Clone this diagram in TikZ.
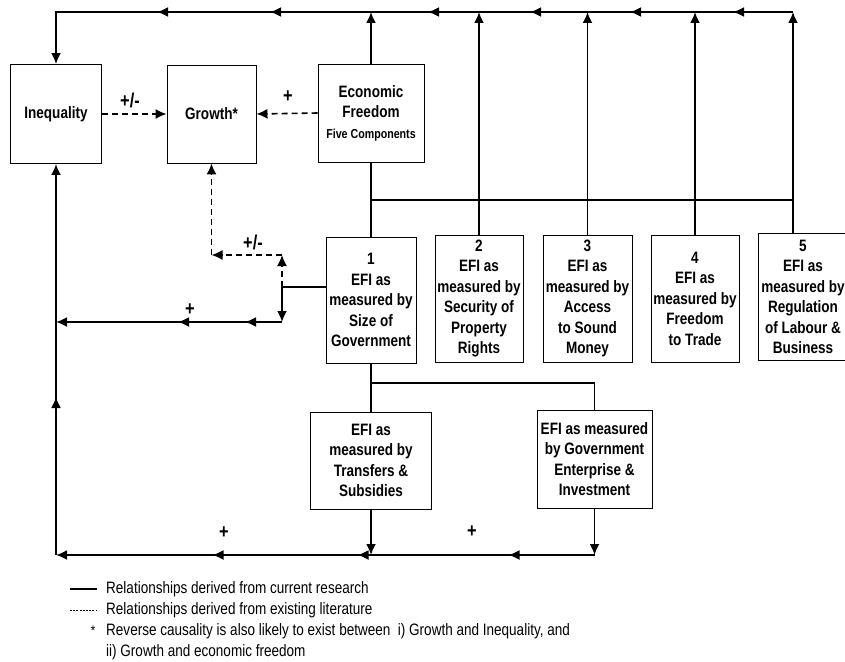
\documentclass[tikz,border=0pt]{standalone}
\usepackage{fontspec}
\setmainfont{Liberation Sans}[FakeStretch=0.82]
\usetikzlibrary{arrows.meta,decorations.markings}
\tikzstyle{bx} = [rectangle, draw, line width=0.9pt, align=center, inner sep=0pt,
    font=\fontsize{16.5}{20.5}\selectfont\bfseries]
\tikzstyle{lnk} = [line width=1.8pt, -{Latex[length=11pt,width=10pt]}]
\tikzstyle{dsh} = [lnk, line width=1.6pt, dash pattern=on 6pt off 4pt]
\tikzstyle{plain} = [line width=1.8pt]
\tikzstyle{sgn} = [inner sep=0pt, font=\fontsize{20}{20}\selectfont\bfseries]
\tikzstyle{legtxt} = [inner sep=0pt, anchor=west, font=\fontsize{16.5}{20}\selectfont]
\tikzset{tipat/.style={postaction={decorate,decoration={markings,
    mark=at position #1 with {\arrow{Latex[length=11pt,width=10pt]}}}}}}

\begin{document}
\begin{tikzpicture}[x=1pt,y=-1pt]
  \useasboundingbox (0,0) rectangle (845,661);

  \node[bx, minimum width=91pt, minimum height=99pt]  (ineq)   at (56,114)    {Inequality};
  \node[bx, minimum width=89pt, minimum height=98pt]  (growth) at (211.5,114) {Growth*};
  \node[bx, minimum width=106pt, minimum height=98pt] (ef)     at (371,113)
       {Economic\\Freedom\\{\fontsize{13}{15}\selectfont Five Components}};

  \node[bx, minimum width=90pt, minimum height=126pt] (efi1) at (371,300)
       {1\\EFI as\\measured by\\Size of\\Government};
  \node[bx, minimum width=88pt, minimum height=127pt] (efi2) at (479,298.5)
       {2\\EFI as\\measured by\\Security of\\Property\\Rights};
  \node[bx, minimum width=89pt, minimum height=127pt] (efi3) at (587.5,298.5)
       {3\\EFI as\\measured by\\Access\\to Sound\\Money};
  \node[bx, minimum width=88pt, minimum height=127pt] (efi4) at (695,298.5)
       {4\\EFI as\\measured by\\Freedom\\to Trade};
  \node[bx, minimum width=90pt, minimum height=127pt] (efi5) at (803,297)
       {5\\EFI as\\measured by\\Regulation\\of Labour \&\\Business};

  \node[bx, minimum width=121pt, minimum height=97pt] (trans) at (371,460.5)
       {EFI as\\measured by\\Transfers \&\\Subsidies};
  \node[bx, minimum width=115pt, minimum height=98pt] (gov)   at (594.5,459)
       {EFI as measured\\by Government\\Enterprise \&\\Investment};

  \coordinate (tl) at (56,12);
  \coordinate (tr) at (793,12);
  \coordinate (busl) at (371,200);
  \coordinate (busr) at (793,200);
  \coordinate (j1) at (282,287);
  \coordinate (j2) at (282,255);
  \coordinate (j3) at (211.5,255);
  \coordinate (j4) at (282,322);
  \coordinate (m0) at (56,322);
  \coordinate (split) at (371,383);
  \coordinate (splitr) at (594.5,383);
  \coordinate (b0) at (56,555);
  \coordinate (b2) at (594.5,555);

  \draw[lnk, tipat=60pt, tipat=163pt, tipat=263pt, tipat=365pt, tipat=523pt, tipat=636pt]
       (tr) -- (tl) -- (ineq.north);
  \draw[lnk] (ef.north) -- (ef.north |- tl);
  \draw[lnk] (efi2.north) -- (efi2.north |- tl);
  \draw[lnk] (efi3.north) -- (efi3.north |- tl);
  \draw[lnk] (efi4.north) -- (efi4.north |- tl);
  \draw[lnk] ([xshift=-10pt]efi5.north) -- (tr);
  \draw[plain] (ef.south) -- (efi1.north);
  \draw[plain] (busl) -- (busr);

  \draw[dsh] (ineq.east) -- (growth.west);
  \draw[dsh] (ef.west) -- (growth.east);
  \node[sgn] (pm1) at (130,100) {+/-};
  \node[sgn] (p1)  at (288,97)  {+};

  \draw[plain] ([yshift=13pt]efi1.west) -- (j1);
  \draw[lnk] (j1) -- (j4);
  \draw[lnk, tipat=37pt, tipat=104pt] (j4) -- (m0);
  \draw[dsh] (j1) -- (j2);
  \draw[dsh] (j2) -- (j3);
  \draw[dsh] (j3) -- (growth.south);
  \node[sgn] (pm2) at (253,242) {+/-};
  \node[sgn] (p2)  at (190,310) {+};

  \draw[plain] (efi1.south) -- (trans.north);
  \draw[plain] (split) -- (splitr) -- (gov.north);
  \draw[lnk] (trans.south) -- (trans.south |- b0);
  \draw[lnk] (gov.south) -- (b2);
  \draw[lnk, tipat=86pt, tipat=237pt, tipat=382pt] (b2) -- (b0);
  \draw[lnk, tipat=158pt] (b0) -- (ineq.south);
  \node[sgn] (p3) at (224,533) {+};
  \node[sgn] (p4) at (472,532) {+};

  \draw[line width=1.2pt] (70,589) -- (97,589);
  \draw[line width=1pt, dash pattern=on 2pt off 1.2pt] (70,610) -- (97,610);
  \node[legtxt] (leg1) at (106,589) {Relationships derived from current research};
  \node[legtxt] (leg2) at (106,610) {Relationships derived from existing literature};
  \node[sgn, font=\fontsize{14}{14}\selectfont] (star) at (93,631) {*};
  \node[legtxt] (leg3) at (106,631)
       {Reverse causality is also likely to exist between \ i) Growth and Inequality, and};
  \node[legtxt] (leg4) at (106,652) {ii) Growth and economic freedom};
\end{tikzpicture}
\end{document}
